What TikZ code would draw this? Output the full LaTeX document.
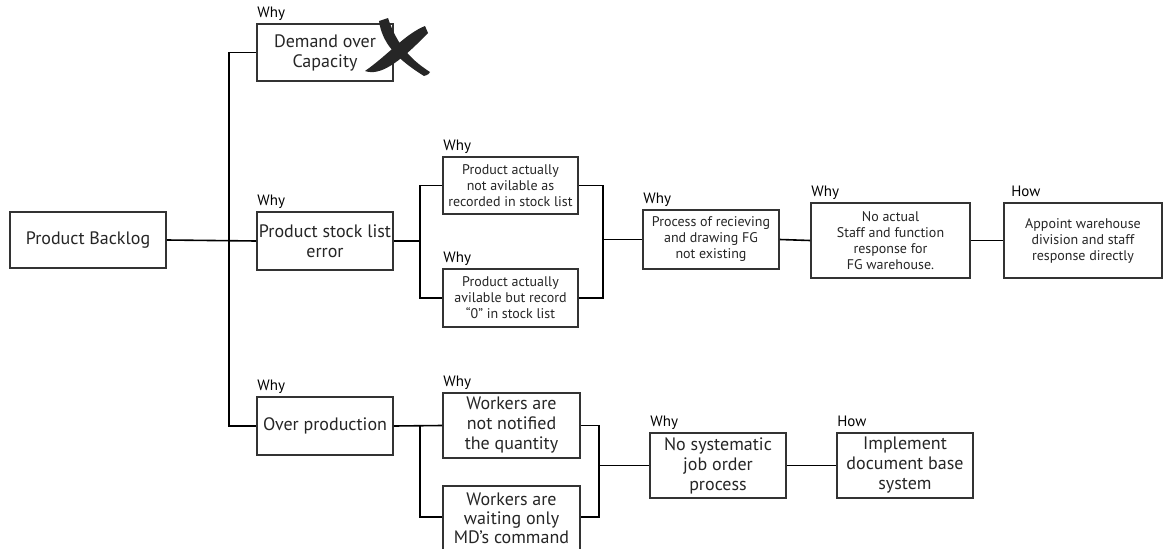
\documentclass[tikz,border=0pt]{standalone}
\usepackage{fontspec}
\setmainfont{PT Sans}
\begin{document}
\begin{tikzpicture}[x=1pt,y=-1pt,
  box/.style={draw=black!80, line width=1.6pt, fill=white, align=center,
    inner sep=1pt, text=black!85},
  big/.style={font=\fontsize{18}{20}\selectfont},
  small/.style={font=\fontsize{14}{16}\selectfont},
  lbl/.style={font=\fontsize{15}{16}\selectfont, anchor=base west, inner sep=0pt},
  link/.style={line width=1.6pt, black}]
\useasboundingbox (0,0) rectangle (1163,549);
\clip (0,0) rectangle (1163,549);

% main problem and first-level causes
\node[box, big, minimum width=156, minimum height=56] (backlog) at (88,240) {Product Backlog};
\node[box, big, minimum width=136, minimum height=57] (demand) at (325,52.5) {Demand over\\Capacity};
\node[box, big, minimum width=136, minimum height=58] (stock) at (325,241) {Product stock list\\error};
\node[box, big, minimum width=136, minimum height=58] (over) at (325,426) {Over production};

% stock list branch
\node[box, small, minimum width=135, minimum height=57] (notav) at (510.5,185.5) {Product actually\\not avilable as\\recorded in stock list};
\node[box, small, minimum width=135, minimum height=58] (avail) at (510.5,298) {Product actually\\avilable but record\\“0” in stock list};
\node[box, small, minimum width=136, minimum height=59] (process) at (711,239.5) {Process of recieving\\and drawing FG\\not existing};
\node[box, small, minimum width=159, minimum height=75] (noactual) at (890.5,240.5) {No actual\\Staff and function\\response for\\FG warehouse.};
\node[box, small, minimum width=158, minimum height=75] (appoint) at (1083,240.5) {Appoint warehouse\\division and staff\\response directly};

% over production branch
\node[box, big, minimum width=137, minimum height=65] (notified) at (511.5,425.5) {Workers are\\not notified\\the quantity};
\node[box, font=\fontsize{18}{19}\selectfont, minimum width=137, minimum height=66, anchor=north] (waiting) at (511.5,485) {Workers are\\waiting only\\MD’s command};
\node[box, big, minimum width=136, minimum height=65] (nosys) at (718,465.5) {No systematic\\job order\\process};
\node[box, big, minimum width=136, minimum height=65] (implement) at (905,465.5) {Implement\\document base\\system};

% question labels
\node[lbl] (wdemand) at ([xshift=1pt,yshift=6pt]demand.north west) {Why};
\node[lbl] (wstock) at ([xshift=1pt,yshift=6pt]stock.north west) {Why};
\node[lbl] (wover) at ([xshift=1pt,yshift=6pt]over.north west) {Why};
\node[lbl] (wnotav) at ([xshift=1pt,yshift=6pt]notav.north west) {Why};
\node[lbl] (wavail) at ([xshift=1pt,yshift=6pt]avail.north west) {Why};
\node[lbl] (wprocess) at ([xshift=1pt,yshift=6pt]process.north west) {Why};
\node[lbl] (wnoactual) at ([xshift=1pt,yshift=6pt]noactual.north west) {Why};
\node[lbl] (happoint) at ([xshift=8pt,yshift=6pt]appoint.north west) {How};
\node[lbl] (wnotified) at ([xshift=1pt,yshift=6pt]notified.north west) {Why};
\node[lbl] (wnosys) at ([xshift=1pt,yshift=6pt]nosys.north west) {Why};
\node[lbl] (himplement) at ([xshift=1pt,yshift=6pt]implement.north west) {How};

% junction columns
\coordinate (trunk) at (229,0);
\coordinate (j1) at (420,0);
\coordinate (j2) at (603,0);
\coordinate (j3) at (420,0);
\coordinate (j4) at (599,0);

% connectors
\draw[link] (backlog.east) -- (stock.west);
\draw[link] (demand.west) -- (demand.west -| trunk) -- (over.west -| trunk) -- (over.west);
\draw[link] (stock.east) -- (stock.east -| j1);
\draw[link] (notav.west) -- (notav.west -| j1) -- (avail.west -| j1) -- (avail.west);
\draw[link] (notav.east) -- (notav.east -| j2) -- (avail.east -| j2) -- (avail.east);
\draw[link] (process.west -| j2) -- (process.west);
\draw[link] (process.east) -- (noactual.west);
\draw[link] (noactual.east) -- (appoint.west);
\draw[link] (over.east) -- (notified.west);
\draw[link] (notified.west -| j3) -- ([yshift=2pt]waiting.west -| j3) -- ([yshift=2pt]waiting.west);
\draw[link] (notified.east) -- (notified.east -| j4) -- ([yshift=2pt]waiting.east -| j4) -- ([yshift=2pt]waiting.east);
\draw[link] (nosys.west -| j4) -- (nosys.west);
\draw[link] (nosys.east) -- (implement.west);

% brush-stroke cross over the rejected cause
\fill[black!85] (379,21) .. controls (382,42) and (395,58) .. (424,76)
  .. controls (428,75) and (430,73) .. (430,72)
  .. controls (408,58) and (396,42) .. (388,18) -- cycle;
\fill[black!85] (425,26) .. controls (405,34) and (388,55) .. (365,71)
  .. controls (380,76) and (398,64) .. (428,33) -- cycle;
\end{tikzpicture}
\end{document}
